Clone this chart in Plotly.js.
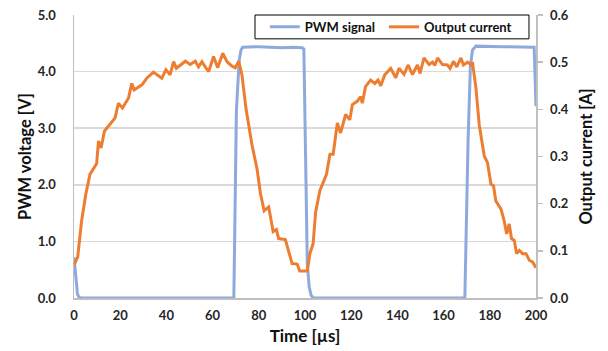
<!DOCTYPE html>
<html>
<head>
<meta charset="utf-8">
<script src="https://cdn.plot.ly/plotly-3.0.1.min.js"></script>
<style>html,body{margin:0;padding:0;background:#fff;}#chart{width:608px;height:351px;}</style>
</head>
<body>
<div id="chart"></div>
<script>
// PWM signal (left axis, V)
const timePWM = [0, 0.5, 1, 1.5, 2.2, 3, 30, 69.2, 70.3, 71.5, 72.3, 73, 80, 90, 95, 98.8, 99.5, 100.3, 101, 101.8, 102.6, 103.5, 130, 169.2, 170.6, 171.6, 172.5, 174, 185, 199.2, 200];
const pwmVoltage = [0.72, 0.45, 0.2, 0.07, 0.01, 0, 0, 0, 3.3, 4.2, 4.38, 4.43, 4.44, 4.42, 4.43, 4.42, 4.4, 2.5, 0.6, 0.2, 0.05, 0, 0, 0, 2.8, 4.1, 4.38, 4.45, 4.44, 4.43, 3.39];

// Output current (right axis, A)
const timeCurrent = [0, 1.6, 3.3, 5.1, 6.9, 9.8, 10.6, 11.7, 13.2, 14.9, 17.8, 19.2, 21, 23.6, 25, 26, 29.4, 31.5, 34.4, 38, 39.8, 41.6, 43.1, 44.3, 46, 48.2, 50.3, 52.5, 53.9, 55.4, 56.8, 58.3, 60.4, 62.2, 64.4, 66.2, 68, 69.8, 71.3, 72.7, 74.5, 77, 79.3, 80.7, 82.3, 84.3, 86.2, 87.6, 88.6, 91.5, 94.4, 96.6, 97.7, 100.2, 101, 102.1, 103.5, 104.6, 106.4, 109.3, 110.8, 112.2, 114, 115.4, 117.6, 119.4, 120.5, 122.6, 124.1, 124.8, 126.2, 128.4, 130.2, 131.6, 132.8, 134.5, 137.1, 139.3, 140.7, 142.9, 144.6, 146.5, 148.7, 149.8, 151.5, 153.7, 155.2, 156.2, 157.4, 159.5, 161.7, 162.8, 164.3, 165.7, 167.5, 168.6, 170.4, 171.8, 172.5, 174, 175.4, 177.6, 179, 180.5, 181.6, 182.6, 184.8, 186.2, 187.3, 188.4, 189.4, 190.6, 191.6, 192.8, 194.2, 195.7, 197.1, 198.6, 200];
const outputCurrent = [0.07, 0.087, 0.164, 0.22, 0.262, 0.285, 0.333, 0.318, 0.354, 0.364, 0.382, 0.413, 0.403, 0.424, 0.455, 0.441, 0.452, 0.466, 0.479, 0.466, 0.484, 0.473, 0.501, 0.487, 0.494, 0.502, 0.495, 0.502, 0.49, 0.501, 0.49, 0.48, 0.512, 0.488, 0.519, 0.501, 0.493, 0.488, 0.502, 0.473, 0.4, 0.326, 0.272, 0.222, 0.185, 0.193, 0.141, 0.145, 0.126, 0.124, 0.073, 0.072, 0.057, 0.057, 0.057, 0.094, 0.115, 0.182, 0.227, 0.262, 0.305, 0.305, 0.371, 0.35, 0.389, 0.378, 0.41, 0.417, 0.427, 0.413, 0.448, 0.462, 0.455, 0.462, 0.45, 0.473, 0.487, 0.467, 0.487, 0.474, 0.494, 0.474, 0.494, 0.476, 0.509, 0.495, 0.5, 0.493, 0.509, 0.495, 0.494, 0.487, 0.502, 0.49, 0.509, 0.494, 0.5, 0.494, 0.5, 0.445, 0.368, 0.301, 0.287, 0.241, 0.238, 0.206, 0.189, 0.164, 0.136, 0.157, 0.126, 0.122, 0.094, 0.101, 0.094, 0.094, 0.08, 0.076, 0.064];

const seriesNames = ['PWM signal', 'Output current'];
const axisTitles = {x: 'Time [µs]', y: 'PWM voltage [V]', y2: 'Output current [A]'};

const FONT = 'Lato, "Open Sans", sans-serif';
const txt = '#262626';
const grid = '#d9d9d9';
const none = 'rgba(0,0,0,0)';

const traces = [
  {x: timePWM, y: pwmVoltage, name: seriesNames[0], type: 'scatter', mode: 'lines',
   line: {color: '#8eaadc', width: 3}, xaxis: 'x', yaxis: 'y', legend: 'legend'},
  {x: timeCurrent, y: outputCurrent, name: seriesNames[1], type: 'scatter', mode: 'lines',
   line: {color: '#ed7d31', width: 3}, xaxis: 'x', yaxis: 'y2', legend: 'legend2'}
];

const legendStyle = {orientation: 'h', xanchor: 'left', y: 0.958, yanchor: 'middle',
  bgcolor: none, borderwidth: 0, itemwidth: 30,
  font: {family: FONT, size: 13, color: '#111', weight: 'bold'}};

const layout = {
  width: 608, height: 351,
  margin: {l: 74, r: 72, t: 13, b: 53},
  paper_bgcolor: '#fff', plot_bgcolor: '#fff',
  font: {family: FONT, color: txt, size: 11},
  showlegend: true,
  legend: Object.assign({}, legendStyle, {x: 0.413}),
  legend2: Object.assign({}, legendStyle, {x: 0.671}),
  shapes: [{type: 'rect', xref: 'paper', yref: 'paper', x0: 0.3918, x1: 0.9848, y0: 0.9158, y1: 1.0,
            line: {color: '#000', width: 1}, fillcolor: '#fff', layer: 'above'}],
  xaxis: {range: [0, 200], tick0: 0, dtick: 20, showgrid: false, zeroline: false,
          showline: true, linecolor: '#bfbfbf', linewidth: 1.5, ticks: 'outside', ticklen: 5, tickcolor: none,
          tickfont: {family: FONT, size: 13, color: txt, weight: 'bold'},
          title: {text: axisTitles.x, font: {family: FONT, size: 17, color: '#111', weight: 'bold'}, standoff: 8}},
  xaxis2: {range: [0, 200], overlaying: 'x', anchor: 'y', tick0: 0, dtick: 50,
           showgrid: true, gridcolor: grid, gridwidth: 1.5, showticklabels: false,
           ticks: '', zeroline: false, showline: false},
  yaxis: {range: [0, 5], dtick: 1, tickformat: '.1f', showgrid: true, gridcolor: grid, gridwidth: 1.5,
          zeroline: false, showline: true, linecolor: '#bfbfbf', linewidth: 1.5,
          ticks: 'outside', ticklen: 14, tickcolor: none,
          tickfont: {family: FONT, size: 13, color: txt, weight: 'bold'},
          title: {text: axisTitles.y, font: {family: FONT, size: 16.5, color: '#111', weight: 'bold'}, standoff: 2}},
  yaxis2: {range: [0, 0.6], dtick: 0.1, tickformat: '.1f', overlaying: 'y', side: 'right', anchor: 'x',
           showgrid: false, zeroline: false, showline: true, linecolor: '#bfbfbf', linewidth: 1.5,
           ticks: 'outside', ticklen: 5, tickcolor: '#bfbfbf', tickwidth: 1.5, ticklabelstandoff: 5,
           tickfont: {family: FONT, size: 13, color: txt, weight: 'bold'},
           title: {text: axisTitles.y2, font: {family: FONT, size: 16.5, color: '#111', weight: 'bold'}, standoff: 12}}
};

Plotly.newPlot('chart', traces, layout, {displayModeBar: false, staticPlot: true});
</script>
</body>
</html>
